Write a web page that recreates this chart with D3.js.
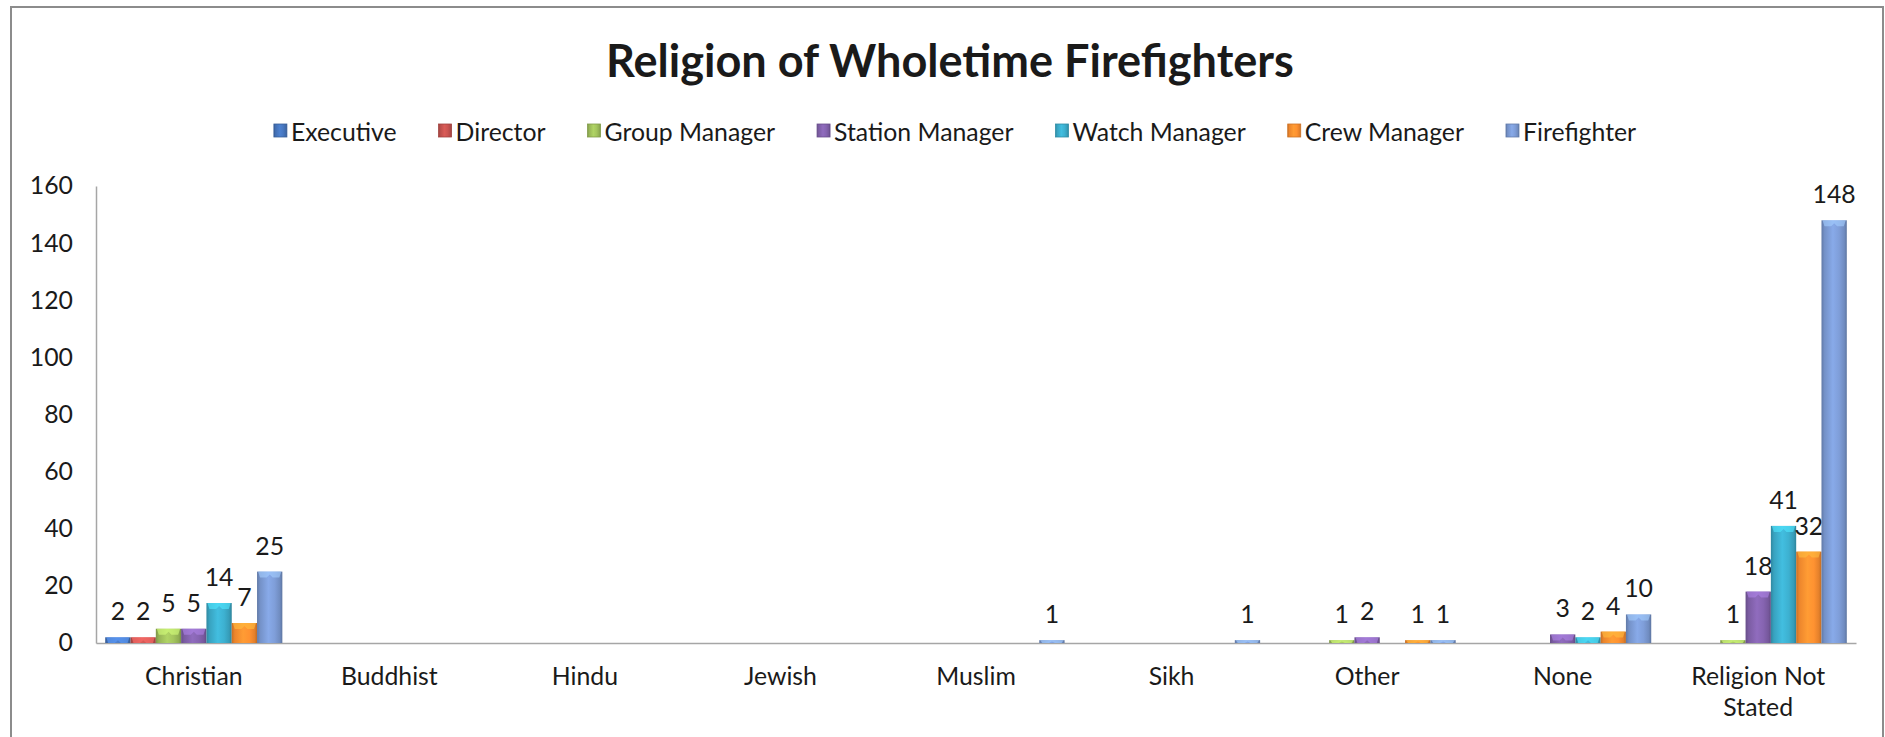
<!DOCTYPE html>
<html><head><meta charset="utf-8">
<script src="https://cdn.jsdelivr.net/npm/d3@7"></script>
<style>
body{margin:0;background:#fff;}
svg{display:block;}
text{font-family:Lato,"Open Sans",sans-serif;fill:#1a1a1a;}
</style>
</head><body>
<svg id="chart" width="1885" height="737"></svg>
<script>
// ---- data ----
const categories = ["Christian","Buddhist","Hindu","Jewish","Muslim","Sikh","Other","None","Religion Not Stated"];
const seriesNames = ["Executive","Director","Group Manager","Station Manager","Watch Manager","Crew Manager","Firefighter"];
const executive      = [2,0,0,0,0,0,0,0,0];
const director       = [2,0,0,0,0,0,0,0,0];
const groupManager   = [5,0,0,0,0,0,1,0,1];
const stationManager = [5,0,0,0,0,0,2,3,18];
const watchManager   = [14,0,0,0,0,0,0,2,41];
const crewManager    = [7,0,0,0,0,0,1,4,32];
const firefighter    = [25,0,0,0,1,1,1,10,148];
const yTicks = [0,20,40,60,80,100,120,140,160];
const titleText = "Religion of Wholetime Firefighters";
const seriesColors = ["#4472B8","#C0504D","#9BBB59","#7F5FA8","#3AA8C6","#F58A2E","#7896CE"];

const seriesValues = [executive,director,groupManager,stationManager,watchManager,crewManager,firefighter];
const series = seriesNames.map((name,i)=>({name, color:seriesColors[i], values:seriesValues[i]}));

// ---- layout ----
const svg = d3.select("#chart");
const plot = {left:96, right:1856, top:186, bottom:643};

// frame
svg.append("rect").attr("x",11).attr("y",7).attr("width",1872).attr("height",760)
  .attr("fill","#fff").attr("stroke","#8c8c8c").attr("stroke-width",2);

// font fitting (substitute font matched to the reference text widths)
function fitSize(str, target, weight){
  const t = svg.append("text").attr("font-size",100).attr("font-weight",weight||"normal").text(str);
  const w = t.node().getComputedTextLength(); t.remove();
  return 100*target/w;
}
const bodySize = (fitSize("Christian",95) + fitSize("Executive",106) + fitSize("Firefighter",116))/3;
const titleSize = fitSize(titleText,688,"bold");

// gradients
const defs = svg.append("defs");
series.forEach((s,i)=>{
  const c = d3.color(s.color);
  const g = defs.append("linearGradient").attr("id","g"+i).attr("x1",0).attr("x2",1).attr("y1",0).attr("y2",0);
  [[0,c.darker(0.6)],[0.12,c.darker(0.1)],[0.45,c.brighter(0.35)],[0.7,c.brighter(0.15)],[0.9,c.darker(0.2)],[1,c.darker(0.7)]]
    .forEach(([o,col])=>g.append("stop").attr("offset",o).attr("stop-color",col));
});

// scales
const x0 = d3.scaleBand().domain(categories).range([plot.left,plot.right]).padding(0);
const x1 = d3.scaleBand().domain(seriesNames).range([0,x0.bandwidth()]).paddingInner(0).paddingOuter(0.364);
const y = d3.scaleLinear().domain([0,160]).range([plot.bottom,plot.top]);

// title
svg.append("text").attr("x",950).attr("y",77).attr("text-anchor","middle")
  .attr("font-size",titleSize).attr("font-weight","bold").attr("fill","#000").text(titleText);

// legend
const legend = svg.append("g");
let lx = 0;
const gap = 42;
series.forEach((s,i)=>{
  const g = legend.append("g").attr("transform",`translate(${lx},0)`);
  g.append("rect").attr("x",0).attr("y",-7).attr("width",13).attr("height",13)
    .attr("fill",`url(#g${i})`).attr("stroke",d3.color(s.color).darker(0.5)).attr("stroke-width",0.8);
  const t = g.append("text").attr("x",17).attr("y",0).attr("dominant-baseline","central")
    .attr("font-size",bodySize).text(s.name);
  lx += 17 + t.node().getComputedTextLength() + gap;
});
const legendW = lx - gap;
legend.attr("transform",`translate(${955-legendW/2},131)`);

// axes
const yAxis = d3.axisLeft(y).tickValues(yTicks).tickSize(0).tickPadding(23);
const gy = svg.append("g").attr("transform",`translate(${plot.left},0)`).call(yAxis);
gy.select(".domain").attr("stroke","#a6a6a6").attr("stroke-width",1.5);
gy.selectAll("text").attr("font-size",bodySize).attr("font-family",null).attr("fill","#1a1a1a");

const xAxis = d3.axisBottom(x0).tickSize(0).tickPadding(24);
const gx = svg.append("g").attr("transform",`translate(0,${plot.bottom})`).call(xAxis);
gx.select(".domain").attr("stroke","#a6a6a6").attr("stroke-width",1.5);
gx.selectAll("text").attr("font-size",bodySize).attr("font-family",null).attr("fill","#1a1a1a")
  .each(function(d){
    const t = d3.select(this);
    if (this.getComputedTextLength() > x0.bandwidth()*0.9) {
      const words = d.split(" ");
      const last = words.pop();
      t.text(null);
      t.append("tspan").attr("x",0).attr("dy","0.71em").text(words.join(" "));
      t.append("tspan").attr("x",0).attr("dy","1.28em").text(last);
    }
  });

// bars
series.forEach((s,i)=>{
  const data = categories.map((c,j)=>({c, v:s.values[j]})).filter(d=>d.v>0);
  const g = svg.append("g");
  const c = d3.color(s.color);
  data.forEach(d=>{
    const bx = x0(d.c)+x1(s.name), bw = x1.bandwidth();
    const top = y(d.v), h = y(0)-top;
    g.append("rect").attr("x",bx).attr("y",top).attr("width",bw).attr("height",h)
      .attr("fill",`url(#g${i})`);
    const capH = Math.min(6,h);
    g.append("path")
      .attr("d",`M${bx+1},${top} L${bx+bw-1},${top} L${bx+bw-3},${top+capH} L${bx+bw/2+3},${top+capH} L${bx+bw/2},${top+capH*0.5} L${bx+bw/2-3},${top+capH} L${bx+3},${top+capH} Z`)
      .attr("fill",c.brighter(0.9)).attr("opacity",0.6);
    g.append("text").attr("x",bx+bw/2).attr("y",top-17).attr("text-anchor","middle")
      .attr("font-size",bodySize).text(d.v);
  });
});
</script>
</body></html>
